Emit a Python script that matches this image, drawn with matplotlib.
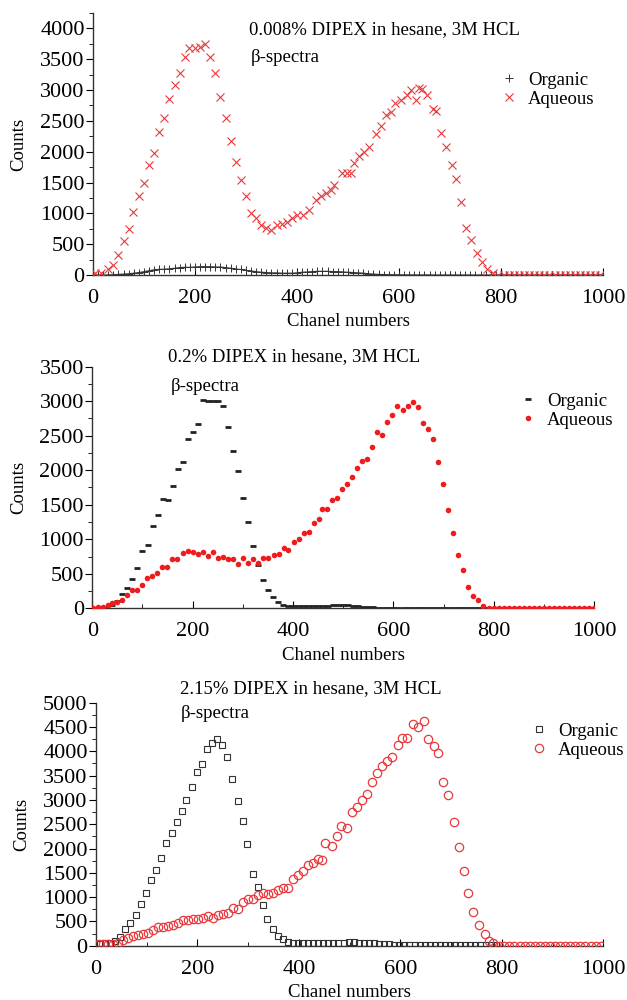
import numpy as np
import matplotlib.pyplot as plt
from matplotlib.ticker import MultipleLocator

plt.rcParams['font.family'] = ['Liberation Serif', 'DejaVu Serif']

RED = '#e8393c'

# ---- panel 1 : 0.008% DIPEX ----
org1_x = list(range(0, 1001, 10))
org1_y = [0, 0, 0, 0, 5, 10, 15, 20, 30, 40, 54, 70, 85, 92, 95, 100, 110, 120, 125, 125,
          130, 135, 135, 135, 130, 130, 120, 110, 95, 90, 75, 65, 55, 45, 40, 35, 35, 30, 30, 30,
          35, 45, 50, 55, 60, 60, 60, 55, 55, 50, 45, 40, 35, 30, 20, 15, 10, 8, 5, 5,
          3, 2, 2, 1, 1, 1, 1, 0, 0, 0, 0, 0, 0, 0, 0, 0, 0, 0, 0, 0,
          0, 0, 0, 0, 0, 0, 0, 0, 0, 0, 0, 0, 0, 0, 0, 0, 0, 0, 0, 0, 0]
aq1_x = [3, 16, 30, 39, 50, 60, 70, 79, 90, 100, 110, 119, 130, 140, 150, 161, 171, 180, 188, 200,
         210, 220, 230, 240, 249, 260, 270, 280, 290, 300, 310, 320, 330, 340, 350, 361, 370, 380, 390, 400,
         411, 424, 437, 447, 457, 467, 473, 489, 499, 506, 512, 522, 532, 541, 554, 564, 574, 584, 593, 603,
         616, 623, 633, 639, 646, 654, 667, 673, 683, 692, 703, 711, 722, 732, 742, 753, 762, 772, 784,
         795, 805, 815, 825, 835, 845, 855, 865, 875, 885, 895, 905, 915, 925, 935, 945, 955, 965, 975, 985, 995]
aq1_y = [27, 38, 92, 162, 324, 557, 740, 1027, 1281, 1497, 1784, 1984, 2314, 2540, 2849, 3076, 3270, 3540, 3676, 3676,
         3703, 3740, 3530, 3281, 2881, 2540, 2178, 1827, 1535, 1286, 1011, 919, 811, 760, 735, 811, 827, 854, 919, 973,
         973, 1054, 1216, 1281, 1335, 1378, 1459, 1649, 1649, 1659, 1822, 1930, 2000, 2081, 2286, 2416, 2595, 2649, 2784, 2838,
         2919, 3000, 2838, 3027, 3011, 2919, 2686, 2659, 2308, 2081, 1784, 1551, 1189, 757, 568, 351, 216, 92, 38,
         0, 0, 0, 0, 0, 0, 0, 0, 0, 0, 0, 0, 0, 0, 0, 0, 0, 0, 0, 0, 0]

# ---- panel 2 : 0.2% DIPEX ----
org2_x = list(range(0, 1001, 10))
org2_y = [0, 0, 0, 10, 50, 111, 208, 299, 420, 584, 830, 917, 1188, 1347, 1579, 1564, 1767, 2023, 2125, 2448,
          2550, 2665, 3018, 3008, 3008, 3008, 2931, 2627, 2279, 1994, 1603, 1251, 898, 628, 406, 266, 159, 87, 48, 34,
          34, 40, 30, 30, 30, 30, 35, 40, 48, 50, 50, 45, 40, 35, 25, 20, 15, 10, 8, 5,
          5, 3, 3, 3, 3, 3, 3, 3, 3, 3, 3, 3, 3, 3, 3, 3, 3, 3, 3, 0,
          0, 0, 0, 0, 0, 0, 0, 0, 0, 0, 0, 0, 0, 0, 0, 0, 0, 0, 0, 0, 0]
aq2_x = [2, 12, 22, 32, 40, 49, 59, 69, 79, 89, 99, 109, 119, 129, 139, 149, 159, 169, 180, 190,
         200, 210, 220, 230, 240, 250, 260, 270, 280, 290, 301, 311, 321, 331, 341, 351, 361, 371, 381, 390,
         401, 411, 421, 431, 441, 451, 458, 468, 478, 488, 498, 508, 518, 528, 538, 548, 558, 568, 578, 588,
         598, 608, 619, 628, 638, 648, 658, 668, 678, 688, 698, 709, 719, 729, 739, 749, 759, 769, 778,
         790, 800, 810, 820, 830, 840, 850, 860, 870, 880, 890, 900, 910, 920, 930, 940, 950, 960, 970, 980, 990, 1000]
aq2_y = [5, 14, 24, 48, 72, 97, 121, 193, 266, 266, 338, 435, 473, 507, 594, 594, 715, 715, 806, 830,
         811, 787, 821, 763, 811, 734, 748, 710, 710, 642, 734, 662, 710, 662, 734, 724, 773, 782, 879, 845,
         966, 1004, 1086, 1111, 1231, 1289, 1434, 1434, 1569, 1593, 1729, 1796, 1898, 2028, 2134, 2158, 2332, 2559, 2511, 2694,
         2805, 2936, 2868, 2936, 2984, 2912, 2680, 2593, 2453, 2125, 1801, 1429, 1096, 768, 560, 314, 174, 121, 34,
         0, 0, 0, 0, 0, 0, 0, 0, 0, 0, 0, 0, 0, 0, 0, 0, 0, 0, 0, 0, 0, 0]

# ---- panel 3 : 2.15% DIPEX ----
org3_x = [8, 18, 28, 37, 47, 57, 68, 78, 89, 98, 108, 119, 129, 138, 149, 159, 169, 178, 189, 199,
          209, 218, 228, 239, 249, 258, 268, 279, 289, 298, 309, 319, 329, 338, 349, 359, 369, 378, 388, 398,
          408, 418, 428, 438, 448, 458, 468, 478, 488, 498, 508, 518, 528, 538, 548, 558, 568, 578, 588, 598,
          608, 618, 628, 638, 648, 658, 668, 678, 688, 698, 708, 718, 728, 738, 748, 758, 768, 778, 788]
org3_y = [27, 48, 62, 96, 185, 336, 473, 631, 864, 1084, 1351, 1557, 1797, 2119, 2318, 2538, 2764, 2990, 3272, 3573,
          3731, 4040, 4163, 4252, 4129, 3875, 3429, 2984, 2565, 2092, 1468, 1200, 830, 542, 336, 199, 130, 82, 62, 62,
          62, 48, 50, 55, 60, 60, 60, 65, 65, 70, 70, 65, 65, 60, 55, 45, 35, 25, 20, 15,
          10, 10, 8, 8, 8, 8, 8, 8, 8, 8, 8, 8, 8, 8, 8, 8, 8, 5, 5]
aq3_x = [5, 14, 24, 34, 44, 54, 64, 73, 83, 93, 103, 113, 123, 132, 142, 152, 162, 172, 182, 191,
         201, 211, 221, 231, 241, 251, 260, 270, 280, 290, 300, 310, 320, 330, 339, 349, 359, 369, 378, 388,
         398, 408, 418, 428, 437, 446, 452, 466, 475, 484, 494, 505, 515, 525, 534, 544, 554, 564, 574, 584,
         595, 603, 614, 624, 635, 646, 654, 666, 675, 685, 694, 705, 715, 725, 734, 744, 755, 766, 775, 783,
         795, 805, 815, 825, 835, 845, 855, 865, 875, 885, 895, 905, 915, 925, 935, 945, 955, 965, 975, 985, 995]
aq3_y = [27, 34, 41, 41, 62, 117, 165, 199, 213, 240, 254, 322, 391, 391, 412, 425, 460, 528, 528, 542,
         542, 562, 617, 576, 631, 652, 679, 768, 754, 905, 953, 953, 1043, 1077, 1063, 1091, 1145, 1180, 1193, 1365,
         1454, 1536, 1660, 1708, 1776, 1763, 2119, 2051, 2257, 2469, 2428, 2757, 2860, 2997, 3121, 3374, 3546, 3697, 3807, 3889,
         4129, 4280, 4266, 4554, 4492, 4623, 4259, 4108, 3971, 3374, 3100, 2545, 2037, 1543, 1091, 700, 425, 240, 96, 48,
         0, 0, 0, 0, 0, 0, 0, 0, 0, 0, 0, 0, 0, 0, 0, 0, 0, 0, 0, 0, 0]

titles = ['0.008% DIPEX in hesane, 3M HCL',
          '0.2% DIPEX in hesane, 3M HCL',
          '2.15% DIPEX in hesane, 3M HCL']

TICK_FS = 16
TXT_FS = 13.5

fig = plt.figure(figsize=(6.27, 10), dpi=100)
ax1 = fig.add_axes([0.1483, 0.725, 0.8134, 0.262])
ax2 = fig.add_axes([0.1472, 0.3917, 0.8006, 0.2416])
ax3 = fig.add_axes([0.1531, 0.0543, 0.809, 0.243])


def style(ax, ymax, ystep, yminor):
    ax.set_xlim(0, 1000)
    ax.set_ylim(0, ymax)
    ax.spines['top'].set_visible(False)
    ax.spines['right'].set_visible(False)
    for s in ['left', 'bottom']:
        ax.spines[s].set_color('#333333')
        ax.spines[s].set_linewidth(1.0)
    ax.xaxis.set_major_locator(MultipleLocator(200))
    ax.xaxis.set_minor_locator(MultipleLocator(100))
    ax.yaxis.set_major_locator(MultipleLocator(ystep))
    ax.yaxis.set_minor_locator(MultipleLocator(yminor))
    ax.tick_params(axis='y', which='major', direction='out', length=5, labelsize=TICK_FS, pad=1)
    ax.tick_params(axis='y', which='minor', direction='out', length=3)
    ax.tick_params(axis='x', which='major', direction='in', length=5, labelsize=TICK_FS, pad=10)
    ax.tick_params(axis='x', which='minor', direction='in', length=3)
    ax.set_xlabel('Chanel numbers', fontsize=TXT_FS, labelpad=4)
    ax.set_ylabel('Counts', fontsize=TXT_FS, labelpad=9)


def add_legend(ax, x, y):
    ax.legend(loc='upper left', bbox_to_anchor=(x, y), frameon=False, fontsize=TXT_FS,
              handlelength=1.0, handletextpad=0.5, labelspacing=0.1, borderaxespad=0,
              borderpad=0)


# panel 1
ax1.plot(org1_x, org1_y, color='#333333', lw=0.8, zorder=2)
ax1.plot(org1_x, org1_y, ls='none', marker='+', ms=6, mew=0.7, color='#333333', label='Organic', zorder=2)
ax1.plot(aq1_x, aq1_y, ls='none', marker='x', ms=6, mew=0.8, color=RED, label='Aqueous', zorder=3)
style(ax1, 4250, 500, 250)
ax1.set_yticks(range(0, 4001, 500))
ax1.text(0.305, 0.935, titles[0], transform=ax1.transAxes, fontsize=TXT_FS, va='center')
ax1.text(0.31, 0.83, 'β-spectra', transform=ax1.transAxes, fontsize=TXT_FS, va='center')
add_legend(ax1, 0.798, 0.777)

# panel 2
ax2.plot(org2_x, org2_y, ls='none', marker='_', ms=4, mew=2.0, color='#222222', label='Organic', zorder=2)
ax2.plot(aq2_x, aq2_y, ls='none', marker='o', ms=4, mew=0, color='#ee1c1c', label='Aqueous', zorder=3)
style(ax2, 3500, 500, 250)
ax2.text(0.15, 1.04, titles[1], transform=ax2.transAxes, fontsize=TXT_FS, va='center', clip_on=False)
ax2.text(0.157, 0.92, 'β-spectra', transform=ax2.transAxes, fontsize=TXT_FS, va='center')
add_legend(ax2, 0.85, 0.893)

# panel 3
ax3.plot(org3_x, org3_y, ls='none', marker='s', ms=4.5, mfc='none', mew=0.8, color='#333333',
         label='Organic', zorder=2)
ax3.plot(aq3_x, aq3_y, ls='none', marker='o', ms=6, mfc='none', mew=0.9, color=RED, label='Aqueous', zorder=3)
style(ax3, 5000, 500, 250)
ax3.text(0.165, 1.06, titles[2], transform=ax3.transAxes, fontsize=TXT_FS, va='center', clip_on=False)
ax3.text(0.167, 0.955, 'β-spectra', transform=ax3.transAxes, fontsize=TXT_FS, va='center')
add_legend(ax3, 0.855, 0.918)

fig.savefig('out.png', dpi=100, facecolor='white')
